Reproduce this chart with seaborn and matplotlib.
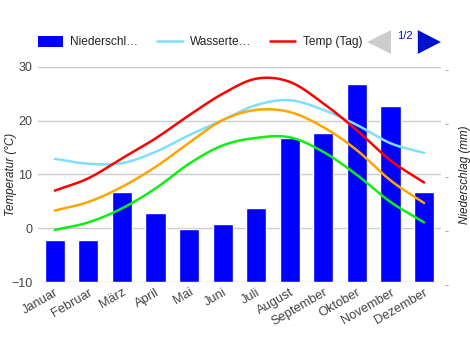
import numpy as np
import pandas as pd
import matplotlib
matplotlib.use("Agg")
import matplotlib.pyplot as plt
import seaborn as sns
from matplotlib.patches import Patch, Polygon
from matplotlib.lines import Line2D

months = ["Januar", "Februar", "März", "April", "Mai", "Juni", "Juli",
          "August", "September", "Oktober", "November", "Dezember"]
niederschlag = [39, 39, 84, 64, 49, 54, 69, 134, 139, 184, 164, 84]
wassertemp = [12.9, 12.0, 12.1, 14.2, 17.3, 20.1, 22.9, 23.8, 22.0, 19.2, 15.8, 14.0]
temp_tag = [7.0, 9.3, 13.0, 16.7, 21.0, 25.0, 27.8, 27.2, 23.2, 18.2, 12.6, 8.5]
temp_mittel = [3.3, 4.9, 7.7, 11.4, 15.9, 20.1, 22.0, 21.6, 18.8, 14.5, 8.9, 4.7]
temp_nacht = [-0.3, 1.1, 3.7, 7.4, 12.0, 15.4, 16.8, 16.9, 14.2, 9.9, 4.9, 1.1]

sns.set_theme(style="white")
plt.rcParams['font.family'] = ['Liberation Sans', 'DejaVu Sans']

fig = plt.figure(figsize=(4.7, 3.5), dpi=100)
ax = fig.add_axes([0.081, 0.194, 0.857, 0.615])
ax2 = ax.twinx()

x = np.arange(len(months))
df = pd.DataFrame({"month": months, "x": x, "p": niederschlag})

# bars on the right axis
ax2.bar(df["x"], df["p"], width=0.6, color="#0000ff", zorder=2)
ax2.set_ylim(0, 200)
ax2.set_yticks([0, 50, 100, 150, 200])
ax2.set_yticklabels([".."] * 5)

def smooth(vals, n=20):
    v = np.asarray(vals, float)
    p = np.concatenate([[2 * v[0] - v[1]], v, [2 * v[-1] - v[-2]]])
    xs, ys = [], []
    for i in range(1, len(p) - 2):
        t = np.linspace(0, 1, n, endpoint=False)
        p0, p1, p2, p3 = p[i - 1], p[i], p[i + 1], p[i + 2]
        y = 0.5 * ((2 * p1) + (-p0 + p2) * t + (2 * p0 - 5 * p1 + 4 * p2 - p3) * t ** 2
                   + (-p0 + 3 * p1 - 3 * p2 + p3) * t ** 3)
        xs.extend(i - 1 + t)
        ys.extend(y)
    xs.append(len(v) - 1)
    ys.append(v[-1])
    return np.array(xs), np.array(ys)

ax.set_zorder(ax2.get_zorder() + 1)
ax.patch.set_visible(False)

series = [(wassertemp, "#80dfff"), (temp_mittel, "#ffa500"),
          (temp_nacht, "#11ee11"), (temp_tag, "#ff0000")]
for vals, col in series:
    xs, ys = smooth(vals)
    sns.lineplot(x=xs, y=ys, ax=ax, color=col, linewidth=1.8, zorder=3)

ax.set_ylim(-10, 30)
ax.set_yticks([-10, 0, 10, 20, 30])
ax.set_xlim(-0.5, 11.5)
ax.set_xticks(x)
ax.set_xticklabels(months, rotation=30, ha="right", rotation_mode="anchor")
for a in (ax, ax2):
    for s in a.spines.values():
        s.set_visible(False)
ax.grid(False)
ax2.grid(False)
for yv in [-10, 0, 10, 20, 30]:
    ax2.axhline((yv + 10) * 5, color="#cccccc", linewidth=1, zorder=0)

ax.tick_params(axis="x", labelsize=9.3, colors="#444444", pad=3, length=0)
ax.tick_params(axis="y", labelsize=9, colors="#444444", pad=4, length=0)
ax2.tick_params(axis="y", labelsize=7, colors="#444444", pad=2, length=0)
ax.set_ylabel("Temperatur (°C)", fontsize=8.4, style="italic", color="#222222")
ax.yaxis.set_label_coords(-0.052, 0.5)
ax2.set_ylabel("Niederschlag (mm)", fontsize=8.4, style="italic", color="#222222")
ax2.yaxis.set_label_coords(1.045, 0.5)

handles = [Patch(facecolor="#0000ff", edgecolor="none"),
           Line2D([0], [0], color="#80dfff", linewidth=1.8),
           Line2D([0], [0], color="#ff0000", linewidth=1.8)]
labels = ["Niederschl…", "Wasserte…", "Temp (Tag)"]
fig.legend(handles, labels, loc="center left", bbox_to_anchor=(0.081, 0.88), ncol=3,
           frameon=False, fontsize=8.6, handlelength=2.1, handleheight=1.1,
           columnspacing=1.6, handletextpad=0.6, labelcolor="#222222",
           borderpad=0, borderaxespad=0)

# pager
fig.patches.append(Polygon([[0.781, 0.880], [0.832, 0.846], [0.832, 0.914]], closed=True,
                           transform=fig.transFigure, facecolor="#cccccc", edgecolor="none"))
fig.patches.append(Polygon([[0.938, 0.880], [0.889, 0.846], [0.889, 0.914]], closed=True,
                           transform=fig.transFigure, facecolor="#0011cc", edgecolor="none"))
fig.text(0.862, 0.896, "1/2", fontsize=8, color="#0011cc", ha="center", va="center")

fig.savefig("out.png", dpi=100)
